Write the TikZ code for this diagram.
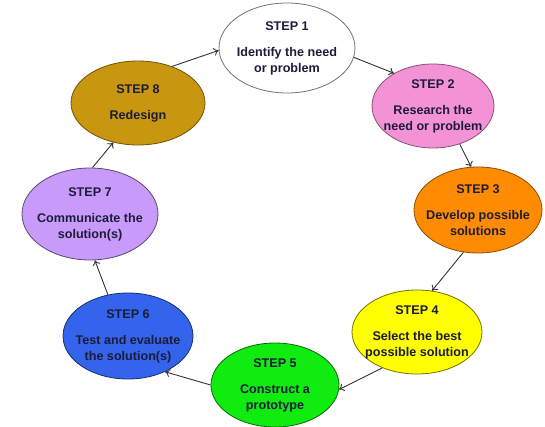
\documentclass[tikz,border=0pt]{standalone}
\usepackage{fontspec}
\setmainfont{Liberation Sans}
\usetikzlibrary{shapes.geometric,arrows.meta}
\definecolor{txt}{RGB}{28,28,58}
\definecolor{cpink}{RGB}{244,146,214}
\definecolor{corange}{RGB}{255,140,0}
\definecolor{cyellow}{RGB}{255,255,0}
\definecolor{cgreen}{RGB}{16,236,16}
\definecolor{cblue}{RGB}{52,100,235}
\definecolor{clav}{RGB}{200,155,250}
\definecolor{cgold}{RGB}{200,150,15}
\begin{document}
\begin{tikzpicture}[x=1pt,y=-1pt,
  stepnode/.style={ellipse, inner sep=-10pt, align=center,
    font=\fontsize{12.6}{16}\selectfont\bfseries, text=txt, line width=0.8pt},
  arr/.style={-{To[length=5pt,width=8pt]}, draw=black!80, line width=0.9pt}]
\useasboundingbox (0,0) rectangle (545,427);
\node[stepnode, fill=white, draw=gray!90!black, minimum width=136pt, minimum height=90pt] (s1) at (287,48)
  {STEP 1\\[10pt]Identify the need\\or problem};
\node[stepnode, fill=cpink, draw=cpink!55!black, minimum width=122pt, minimum height=84pt] (s2) at (433,106)
  {STEP 2\\[10pt]Research the\\need or problem};
\node[stepnode, fill=corange, draw=corange!55!black, minimum width=128pt, minimum height=86pt] (s3) at (478,210)
  {STEP 3\\[10pt]Develop possible\\solutions};
\node[stepnode, fill=cyellow, draw=cyellow!45!black, minimum width=130pt, minimum height=84pt] (s4) at (417,332)
  {STEP 4\\[10pt]Select the best\\possible solution};
\node[stepnode, fill=cgreen, draw=cgreen!45!black, minimum width=128pt, minimum height=84pt] (s5) at (275,385)
  {STEP 5\\[10pt]Construct a\\prototype};
\node[stepnode, fill=cblue, draw=cblue!45!black, minimum width=130pt, minimum height=86pt] (s6) at (128,336)
  {STEP 6\\[10pt]Test and evaluate\\the solution(s)};
\node[stepnode, fill=clav, draw=clav!45!black, minimum width=136pt, minimum height=92pt] (s7) at (90,214)
  {STEP 7\\[10pt]Communicate the\\solution(s)};
\node[stepnode, fill=cgold, draw=cgold!55!black, minimum width=134pt, minimum height=84pt] (s8) at (138,103)
  {STEP 8\\[10pt]Redesign};
\draw[arr] (s8.47) -- (s1.182);
\draw[arr] (s1.352) -- (s2.140);
\draw[arr] (s2.305) -- (s3.99);
\draw[arr] (s3.251) -- (s4.70);
\draw[arr] (s4.226) -- (s5.356);
\draw[arr] (s5.180) -- (s6.316);
\draw[arr] (s6.116) -- (s7.276);
\draw[arr] (s7.87) -- (s8.238);
\end{tikzpicture}
\end{document}
